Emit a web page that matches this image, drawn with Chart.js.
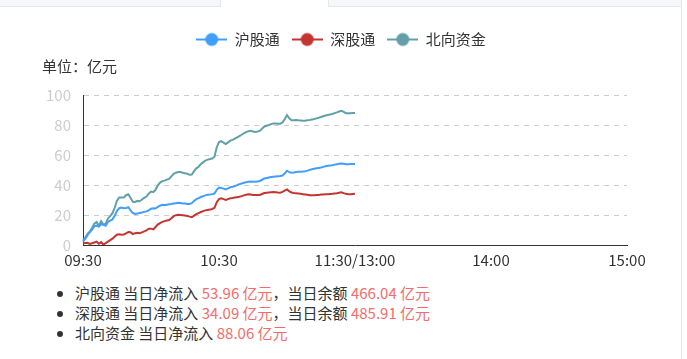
<!DOCTYPE html>
<html>
<head>
<meta charset="utf-8">
<script src="https://cdn.jsdelivr.net/npm/chart.js@4/dist/chart.umd.min.js"></script>
<style>
  body { margin: 0; background: #fff; font-family: "Noto Sans CJK SC", "Noto Sans", sans-serif; color: #333; }
  .tabs { position: absolute; left: 0; top: 0; width: 681px; height: 6px; background: #f5f7fa; border-bottom: 1px solid #e4e7ed; }
  .tabs .active { position: absolute; left: 220px; top: 0; width: 107px; height: 7px; background: #fff; border-left: 1px solid #e4e7ed; border-right: 1px solid #e4e7ed; }
  .edge { position: absolute; left: 681px; top: 0; width: 1px; height: 359px; background: #e4e7ed; }
  .chart-box { position: absolute; left: 0; top: 0; width: 681px; height: 279px; }
  ul.summary { position: absolute; left: 0; top: 283px; margin: 0; padding-left: 75px; font-size: 15px; line-height: 20px; }
  ul.summary .num { color: #f56c6c; }
</style>
</head>
<body>
<div class="chart-box"><canvas id="flowChart"></canvas></div>
<div class="tabs"><div class="active"></div></div>
<div class="edge"></div>
<ul class="summary" id="summary"></ul>
<script>
// 当日累计净流入（亿元），09:30 起每分钟一个点，至 11:30
const seriesNames = ['沪股通', '深股通', '北向资金'];
const seriesColors = ['#409eff', '#c23531', '#61a0a8'];

const shFlow = [
  2.2, 4.0, 6.5, 8.5, 10.3, 12.4, 12.9, 12.3, 14.0, 13.5,
  12.8, 15.4, 16.2, 17.0, 19.6, 22.8, 24.5, 24.9, 24.5, 24.7,
  25.2, 23.0, 21.3, 20.7, 21.0, 21.4, 21.7, 22.1, 22.4, 23.1,
  24.2, 24.5, 24.3, 25.5, 26.2, 26.8, 26.6, 26.9, 27.1, 27.3,
  27.7, 27.9, 28.1, 28.0, 27.7, 27.6, 27.4, 27.4, 27.9, 29.4,
  30.6, 31.2, 32.0, 32.6, 33.1, 33.5, 33.6, 33.9, 34.3, 36.8,
  38.3, 38.0, 37.6, 37.1, 37.8, 38.5, 38.8, 39.3, 39.9, 40.6,
  41.0, 41.5, 41.8, 42.1, 42.3, 42.2, 42.1, 42.4, 42.7, 43.5,
  44.3, 44.7, 45.0, 45.3, 45.5, 45.7, 45.9, 46.0, 46.3, 47.6,
  49.5, 48.6, 48.2, 48.4, 48.7, 48.8, 48.9, 49.0, 49.2, 49.6,
  50.1, 50.5, 50.8, 51.1, 51.4, 51.7, 52.1, 52.5, 52.8, 53.0,
  53.2, 53.6, 53.9, 54.2, 54.4, 54.2, 53.8, 53.9, 54.0, 54.0,
  53.96
];

const szFlow = [
  1.1, 1.4, 1.5, 0.7, 1.2, 1.7, 2.2, 0.8, 1.9, 0.2,
  1.3, 2.3, 3.2, 4.2, 5.6, 6.9, 7.2, 6.8, 7.0, 7.8,
  8.6, 8.5, 7.3, 7.9, 8.2, 7.8, 8.4, 9.1, 9.7, 10.8,
  10.9, 10.4, 12.0, 13.6, 14.6, 15.4, 15.9, 16.3, 16.6, 17.8,
  19.2, 19.9, 20.1, 20.0, 19.8, 19.6, 19.4, 18.9, 18.5, 19.6,
  20.6, 21.3, 22.0, 22.6, 23.1, 23.4, 23.6, 24.0, 24.8, 28.5,
  30.6, 31.1, 30.6, 30.1, 30.6, 31.1, 31.3, 31.6, 31.9, 32.2,
  32.6, 33.1, 33.5, 33.8, 33.7, 33.4, 33.3, 33.3, 33.4, 34.0,
  34.6, 34.8, 35.0, 35.2, 35.4, 35.2, 35.0, 34.9, 35.4, 36.2,
  37.0, 35.8, 35.0, 34.7, 34.5, 34.3, 34.1, 33.9, 33.7, 33.5,
  33.2, 33.1, 33.2, 33.3, 33.4, 33.6, 33.7, 33.8, 33.9, 34.0,
  34.1, 34.3, 34.5, 34.8, 35.1, 34.6, 34.1, 33.9, 33.8, 34.0,
  34.09
];

const northFlow = [
  3.0, 5.0, 7.5, 9.0, 11.5, 14.2, 15.3, 12.8, 16.0, 13.5,
  14.3, 17.6, 19.2, 21.2, 25.0, 29.5, 31.7, 31.6, 31.6, 33.2,
  33.8, 31.4, 28.8, 28.7, 29.4, 29.2, 30.3, 31.5, 32.3, 34.2,
  35.6, 35.2, 36.8, 39.8, 41.6, 42.6, 42.9, 43.6, 44.1, 45.7,
  47.5, 48.2, 48.7, 48.6, 48.2, 47.8, 47.5, 46.8, 46.9, 49.2,
  51.1, 52.2, 54.0, 55.1, 56.3, 56.9, 57.3, 57.6, 58.9, 65.2,
  68.6, 69.2, 68.3, 67.3, 68.4, 69.6, 70.1, 70.9, 71.7, 72.6,
  73.5, 74.5, 75.3, 75.9, 76.2, 75.6, 75.4, 75.7, 76.1, 77.6,
  79.0, 79.5, 80.0, 80.6, 81.0, 81.0, 80.9, 80.9, 81.7, 83.9,
  86.6, 84.5, 83.2, 83.2, 83.3, 83.1, 83.0, 82.9, 82.9, 83.2,
  83.3, 83.6, 84.0, 84.4, 84.8, 85.3, 85.8, 86.3, 86.7, 87.0,
  87.3, 87.9, 88.4, 89.0, 89.5, 88.8, 87.9, 87.8, 87.8, 88.0,
  88.06
];

const xTickLabels = ['09:30', '10:30', '11:30/13:00', '14:00', '15:00'];
const yTicks = [0, 20, 40, 60, 80, 100];

const netInflow = [53.96, 34.09, 88.06];
const balance = [466.04, 485.91];

// 交易时间轴：上午 09:30-11:30，下午 13:00-15:00
function pad2(n) { return (n < 10 ? '0' : '') + n; }
function timeLabel(h, m) { return pad2(h) + ':' + pad2(m); }
const minutes = [];
for (let t = 9 * 60 + 30; t < 11 * 60 + 30; t++) minutes.push(timeLabel(Math.floor(t / 60), t % 60));
minutes.push('11:30/13:00');
for (let t = 13 * 60 + 1; t <= 15 * 60; t++) minutes.push(timeLabel(Math.floor(t / 60), t % 60));

// legend icon: line with a dot in the middle
function legendIcon(color) {
  const c = document.createElement('canvas');
  c.width = 31; c.height = 16;
  const g = c.getContext('2d');
  g.strokeStyle = color;
  g.lineWidth = 2;
  g.beginPath(); g.moveTo(0, 8); g.lineTo(31, 8); g.stroke();
  g.fillStyle = color;
  g.beginPath(); g.arc(15.5, 8, 6.5, 0, Math.PI * 2); g.fill();
  return c;
}

const values = [shFlow, szFlow, northFlow];
const datasets = seriesNames.map((name, i) => ({
  label: name,
  data: values[i],
  borderColor: seriesColors[i],
  backgroundColor: seriesColors[i],
  borderWidth: 2,
  pointRadius: 0,
  pointHoverRadius: 0,
  pointStyle: legendIcon(seriesColors[i]),
  tension: 0,
  fill: false
}));

const font = { family: '"Noto Sans CJK SC", "Noto Sans", sans-serif', size: 15 };

new Chart(document.getElementById('flowChart'), {
  type: 'line',
  data: { labels: minutes, datasets: datasets },
  options: {
    responsive: true,
    maintainAspectRatio: false,
    animation: false,
    layout: { padding: { left: 42, right: 41, top: 20, bottom: 4 } },
    plugins: {
      legend: {
        position: 'top',
        labels: {
          usePointStyle: true,
          pointStyleWidth: 31,
          color: '#333',
          font: font,
          padding: 12
        }
      },
      title: {
        display: true,
        text: '单位：亿元',
        align: 'start',
        color: '#333',
        weight: 500,
        font: { family: font.family, size: 15, weight: 'normal' },
        padding: { top: 0, bottom: 20 }
      },
      tooltip: { enabled: false }
    },
    scales: {
      x: {
        type: 'category',
        grid: { display: false, drawTicks: false },
        border: { color: '#333', width: 1 },
        ticks: {
          color: '#333',
          font: font,
          padding: 6,
          autoSkip: false,
          maxRotation: 0,
          minRotation: 0,
          callback: function(value, index) {
            const lbl = this.getLabelForValue(value);
            return xTickLabels.includes(lbl) ? lbl : null;
          }
        }
      },
      y: {
        position: 'left',
        min: 0,
        max: 100,
        afterFit: s => { s.width = 41; },
        afterBuildTicks: s => { s.ticks = yTicks.map(v => ({ value: v })); },
        grid: {
          drawTicks: false,
          color: ctx => (ctx.tick && ctx.tick.value === 0) ? 'rgba(0,0,0,0)' : '#ccc'
        },
        border: { color: '#333', width: 1, dash: [5, 5] },
        ticks: { color: '#ccc', font: font, padding: 12 }
      },
      pad: {
        type: 'linear',
        position: 'right',
        display: true,
        afterFit: s => { s.width = 13; },
        grid: { display: false },
        border: { display: false },
        ticks: { display: false }
      }
    }
  }
});

// 汇总
const summary = document.getElementById('summary');
seriesNames.forEach((name, i) => {
  const li = document.createElement('li');
  let html = name + ' 当日净流入 <span class="num">' + netInflow[i].toFixed(2) + ' 亿元</span>';
  if (i < balance.length) {
    html += '，当日余额 <span class="num">' + balance[i].toFixed(2) + ' 亿元</span>';
  }
  li.innerHTML = html;
  summary.appendChild(li);
});
</script>
</body>
</html>
